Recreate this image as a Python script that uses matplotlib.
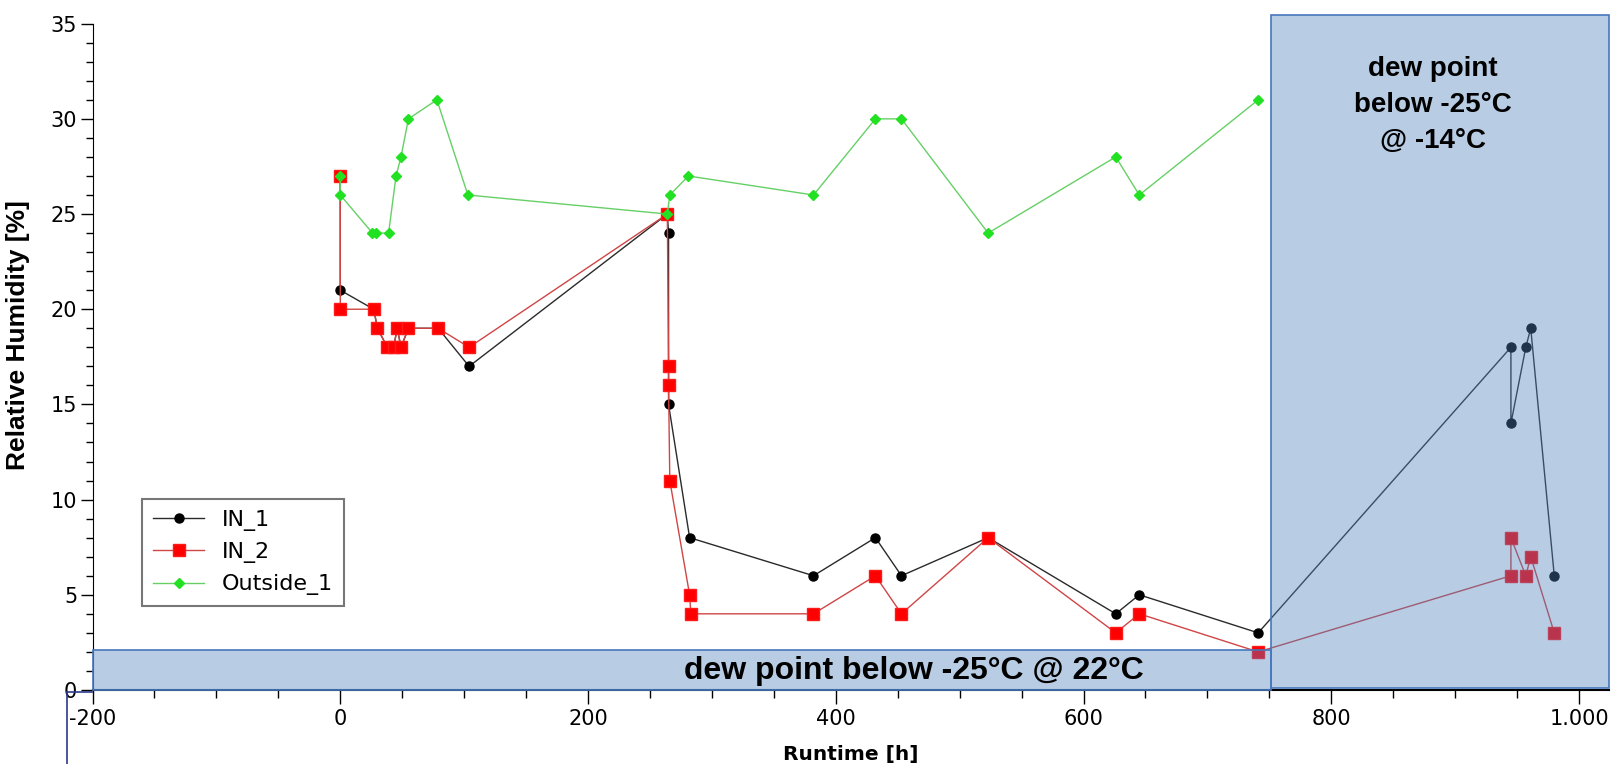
import matplotlib
matplotlib.use("Agg")
import matplotlib.pyplot as plt
from matplotlib.patches import Rectangle
from matplotlib.lines import Line2D
from matplotlib.ticker import MultipleLocator, FixedLocator

# ---- data ----
in1_x = [0, 0, 27, 30, 38, 43, 46, 49, 55, 79, 104, 264, 265, 265, 282, 382, 432, 453, 523, 626, 645, 741, 945, 945, 957, 961, 980]
in1_y = [27, 21, 20, 19, 18, 18, 19, 18, 19, 19, 17, 25, 24, 15, 8, 6, 8, 6, 8, 4, 5, 3, 18, 14, 18, 19, 6]

in2_x = [0, 0, 27, 30, 38, 43, 46, 49, 55, 79, 104, 264, 265, 265, 266, 282, 283, 382, 432, 453, 523, 626, 645, 741, 945, 945, 957, 961, 980]
in2_y = [27, 20, 20, 19, 18, 18, 19, 18, 19, 19, 18, 25, 17, 16, 11, 5, 4, 4, 6, 4, 8, 3, 4, 2, 6, 8, 6, 7, 3]

out_x = [0, 0, 26, 29, 39, 45, 49, 55, 78, 103, 264, 266, 281, 382, 432, 453, 523, 626, 645, 741]
out_y = [27, 26, 24, 24, 24, 27, 28, 30, 31, 26, 25, 26, 27, 26, 30, 30, 24, 28, 26, 31]

x_ticks = [-200, 0, 200, 400, 600, 800, 1000]
x_tick_labels = ["-200", "0", "200", "400", "600", "800", "1.000"]
y_ticks = [0, 5, 10, 15, 20, 25, 30, 35]

series_names = ["IN_1", "IN_2", "Outside_1"]
box_bottom_text = "dew point below -25°C @ 22°C"
box_right_text = "dew point\nbelow -25°C\n@ -14°C"

# ---- figure ----
fig = plt.figure(figsize=(16.12, 7.64), dpi=100)
ax = fig.add_axes([0.0574, 0.0969, 0.9406, 0.8721])

h1, = ax.plot(in1_x, in1_y, color="#2a2a2a", lw=1.0, marker="o", ms=6.5, mfc="black", mec="black", label=series_names[0], zorder=2)
h2, = ax.plot(in2_x, in2_y, color="#d04545", lw=1.0, marker="s", ms=8, mfc="#ff0000", mec="#ff1a1a", label=series_names[1], zorder=3)
h3, = ax.plot(out_x, out_y, color="#66d066", lw=1.0, marker="D", ms=5, mfc="#22e022", mec="#22e022", label=series_names[2], zorder=4)

ax.set_xlim(-200, 1024)
ax.set_ylim(0, 35)

face = (0x4F / 255, 0x81 / 255, 0xBD / 255, 0.4)
edge = "#4677bd"
r1 = Rectangle((-200, 0), 951, 2.12, facecolor=face, edgecolor=edge, lw=1.2, zorder=6, clip_on=False)
r2 = Rectangle((751, 0.1), 273, 35.35, facecolor=face, edgecolor=edge, lw=1.2, zorder=6, clip_on=False)
ax.add_patch(r1)
ax.add_patch(r2)

ax.text(463, 1.0, box_bottom_text, ha="center", va="center", fontsize=23, fontweight="bold",
        family="Liberation Sans", zorder=7)
ax.text(882, 30.75, box_right_text, ha="center", va="center", fontsize=20, fontweight="bold",
        family="Liberation Sans", linespacing=1.5, zorder=7)

# axes styling
for s in ["top", "right"]:
    ax.spines[s].set_visible(False)
ax.spines["left"].set_color("black")
ax.spines["bottom"].set_color("black")
ax.spines["bottom"].set_linewidth(1.5)

ax.xaxis.set_major_locator(FixedLocator(x_ticks))
ax.set_xticklabels(x_tick_labels)
ax.xaxis.set_minor_locator(MultipleLocator(50))
ax.yaxis.set_major_locator(FixedLocator(y_ticks))
ax.yaxis.set_minor_locator(MultipleLocator(1))
ax.tick_params(axis="x", which="major", direction="out", length=10, width=1, labelsize=15, pad=4)
ax.tick_params(axis="x", which="minor", direction="out", length=6, width=1)
ax.tick_params(axis="y", which="major", direction="out", length=9, width=1, labelsize=15, pad=2)
ax.tick_params(axis="y", which="minor", direction="out", length=5, width=1)

ax.set_xlabel("Runtime [h]", fontsize=14.5, fontweight="bold", labelpad=11)
ax.set_ylabel("Relative Humidity [%]", fontsize=19, fontweight="bold", family="Liberation Sans")
ax.yaxis.set_label_coords(-0.041, 0.532)

leg = ax.legend(handles=[h1, h2, h3], loc="upper left", bbox_to_anchor=(142 / 1612, 1 - 499 / 764),
                bbox_transform=fig.transFigure, borderaxespad=0,
                fontsize=16, frameon=True, fancybox=False, edgecolor="#777777", handlelength=2.3,
                borderpad=0.5, labelspacing=0.5, framealpha=1)
leg.get_frame().set_linewidth(1.5)

# frame of the pasted picture
fig.add_artist(Line2D([67 / 1612, 67 / 1612], [0, 1 - 692 / 764], transform=fig.transFigure, color="#2b3a8a", lw=1.2))
fig.add_artist(Line2D([67 / 1612, 92 / 1612], [1 - 692 / 764, 1 - 692 / 764], transform=fig.transFigure, color="#2b3a8a", lw=1.2))

fig.savefig("out.png", dpi=100)
